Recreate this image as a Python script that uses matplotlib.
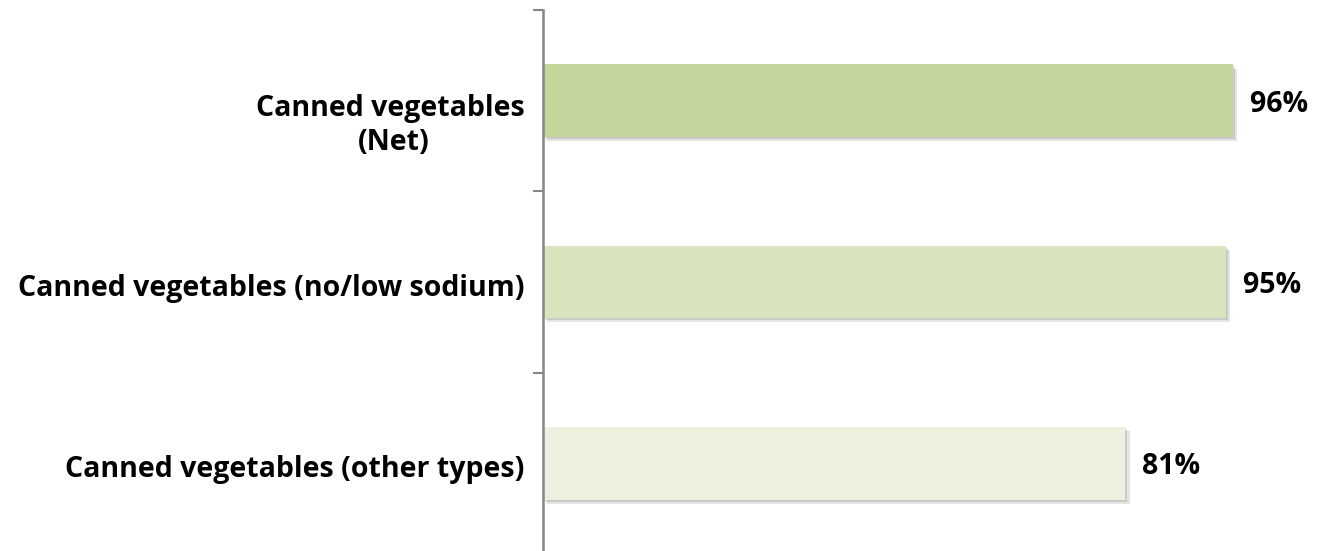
import matplotlib
matplotlib.use("Agg")
import matplotlib.pyplot as plt
import matplotlib.patheffects as pe
from matplotlib.transforms import ScaledTranslation

categories = ["Canned vegetables \n(Net)",
              "Canned vegetables (no/low sodium) ",
              "Canned vegetables (other types) "]
values = [96, 95, 81]
value_labels = ["96% ", "95% ", "81% "]
colors = ["#C3D69B", "#D7E4BD", "#EBF1DE"]

plt.rcParams['font.family'] = ['Open Sans', 'DejaVu Sans']

fig = plt.figure(figsize=(13.29, 5.51), dpi=100)
ax = fig.add_axes([543 / 1329, -3 / 551, 719 / 1329, 544 / 551])

ypos = list(range(len(categories)))
shadow = [pe.SimplePatchShadow(offset=(3, -3), shadow_rgbFace="#000000", alpha=0.10),
          pe.SimplePatchShadow(offset=(1.5, -1.5), shadow_rgbFace="#000000", alpha=0.12),
          pe.Normal()]
bars = ax.barh(ypos, values, height=0.4, color=colors, edgecolor="none")
for b in bars:
    b.set_path_effects(shadow)

for y, v, lab in zip(ypos, values, value_labels):
    ax.annotate(lab, xy=(v, y), xytext=(12, -2.5), textcoords="offset points",
                ha="left", va="center", fontsize=20.5, fontweight="bold",
                color="#000000", annotation_clip=False)

ax.set_xlim(0, 100)
ax.set_ylim(2.5, -0.5)

# boundary ticks between categories, labels centred on the bars
ax.set_yticks([-0.5, 0.5, 1.5, 2.5])
ax.set_yticklabels([])
ax.set_yticks(ypos, minor=True)
ax.set_yticklabels(categories, minor=True, fontsize=20.5, fontweight="bold",
                   multialignment="center")
ax.tick_params(axis="y", which="major", length=7, width=1.5, color="#868686",
               direction="out")
ax.tick_params(axis="y", which="minor", length=0, pad=8)
ax.set_xticks([])

# the two-line label sits a little below its bar
shifts = [0.19, 0.03, 0.03]
for lbl, dy in zip(ax.get_yticklabels(minor=True), shifts):
    lbl.set_transform(lbl.get_transform() + ScaledTranslation(0, -dy, fig.dpi_scale_trans))

for s in ["top", "right", "bottom"]:
    ax.spines[s].set_visible(False)
ax.spines["left"].set_color("#868686")
ax.spines["left"].set_linewidth(1.8)

fig.savefig("out.png", dpi=100, facecolor="white")
